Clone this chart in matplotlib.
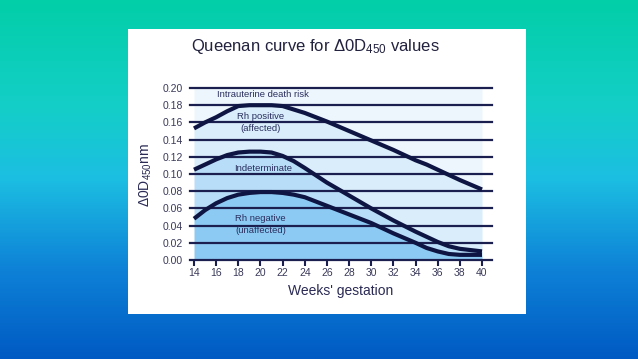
import numpy as np
import matplotlib
matplotlib.use("Agg")
import matplotlib.pyplot as plt
from matplotlib.patches import Rectangle

plt.rcParams['font.family'] = ['Liberation Sans', 'DejaVu Sans']
plt.rcParams['mathtext.fontset'] = 'custom'
plt.rcParams['mathtext.rm'] = 'Liberation Sans'
plt.rcParams['mathtext.it'] = 'Liberation Sans:italic'

# ---- data ----
weeks = [14, 15, 16, 17, 18, 19, 20, 21, 22, 23, 24, 26, 28, 30, 32, 34, 35, 36, 37, 38, 40]
upper_curve = [0.153, 0.160, 0.166, 0.173, 0.179, 0.180, 0.180, 0.180, 0.179, 0.175, 0.171,
               0.161, 0.150, 0.139, 0.128, 0.116, 0.111, 0.105, 0.099, 0.093, 0.082]
middle_curve = [0.105, 0.111, 0.117, 0.122, 0.125, 0.126, 0.126, 0.125, 0.121, 0.115, 0.107,
                0.090, 0.075, 0.060, 0.046, 0.033, 0.027, 0.021, 0.016, 0.013, 0.010]
lower_curve = [0.048, 0.058, 0.066, 0.072, 0.076, 0.078, 0.079, 0.079, 0.078, 0.076, 0.073,
               0.063, 0.053, 0.043, 0.031, 0.020, 0.014, 0.010, 0.007, 0.006, 0.006]
x_ticks = list(range(14, 41, 2))
y_ticks = [0.00, 0.02, 0.04, 0.06, 0.08, 0.10, 0.12, 0.14, 0.16, 0.18, 0.20]
zone_labels = ["Intrauterine death risk", "Rh positive\n(affected)", "Indeterminate",
               "Rh negative\n(unaffected)"]
zone_label_x = [20.2, 20.0, 20.2, 20.0]
zone_label_y = [0.192, 0.160, 0.106, 0.0415]

W, H = 638, 359
fig = plt.figure(figsize=(W / 100, H / 100), dpi=100)

# background gradient
bg = fig.add_axes([0, 0, 1, 1])
bg.set_axis_off()
stops = np.array([0.0, 0.3, 0.5, 0.75, 1.0])
cols = np.array([[2, 207, 168], [20, 206, 200], [28, 190, 226], [14, 130, 215], [0, 90, 195]]) / 255.0
t = np.linspace(0, 1, 200)
grad = np.stack([np.interp(t, stops, cols[:, i]) for i in range(3)], axis=-1)
grad = np.repeat(grad[:, None, :], 4, axis=1)
bg.imshow(grad, aspect='auto', extent=[0, 1, 0, 1], origin='upper')
bg.set_xlim(0, 1)
bg.set_ylim(0, 1)
# white panel
bg.add_patch(Rectangle((128 / W, 1 - 314 / H), (526 - 128) / W, (314 - 29) / H,
                       facecolor='white', edgecolor='none'))

# main axes
x0, x1, ytop, ybot = 190, 492, 88, 260
ax = fig.add_axes([x0 / W, 1 - ybot / H, (x1 - x0) / W, (ybot - ytop) / H])
ax.set_facecolor('none')
px_per_week = (482 - 194) / 26.0
ax.set_xlim(14 - 4 / px_per_week, 40 + 10 / px_per_week)
ax.set_ylim(0, 0.20)
for s in ax.spines.values():
    s.set_visible(False)

w = np.array(weeks)
up = np.array(upper_curve)
mid = np.array(middle_curve)
low = np.array(lower_curve)
ax.fill_between(w, up, 0.20, color='#edf6fd', lw=0, zorder=1)
ax.fill_between(w, mid, up, color='#d9edfb', lw=0, zorder=1)
ax.fill_between(w, low, mid, color='#b8ddf8', lw=0, zorder=1)
ax.fill_between(w, 0, low, color='#8dcaf3', lw=0, zorder=1)

grid_c = '#1b1f4f'
for yv in y_ticks:
    ax.axhline(yv, color=grid_c, lw=1.6, zorder=2, clip_on=False)

curve_c = '#0e1542'
for c in (up, mid, low):
    ax.plot(w, c, color=curve_c, lw=3.0, solid_capstyle='butt', solid_joinstyle='round', zorder=3)

ax.set_xticks(x_ticks)
ax.set_xticklabels([str(v) for v in x_ticks])
ax.set_yticks(y_ticks)
ax.set_yticklabels([f"{v:.2f}" for v in y_ticks])
ax.tick_params(axis='x', direction='out', length=4.5, width=1.5, color=grid_c,
               labelsize=7.5, labelcolor='#3a3a5a', pad=1.5)
ax.tick_params(axis='y', length=0, labelsize=7.5, labelcolor='#3a3a5a', pad=5)

for lab, lx, ly in zip(zone_labels, zone_label_x, zone_label_y):
    ax.text(lx, ly, lab, ha='center', va='center', fontsize=6.8, color='#2a2f5e',
            linespacing=1.35, zorder=4)

ax.set_xlabel("Weeks' gestation", fontsize=10, color='#2a2a55', labelpad=4)
fig.text(146 / W, 1 - 175 / H, 'Δ0D$_{\\mathregular{450}}$nm', rotation=90, ha='center',
         va='center', fontsize=10, color='#2a2a55')
fig.text(315 / W, 1 - 47 / H, 'Queenan curve for Δ0D$_{\\mathregular{450}}$ values',
         ha='center', va='center', fontsize=12, color='#22223f')

fig.savefig('out.png', dpi=100)
